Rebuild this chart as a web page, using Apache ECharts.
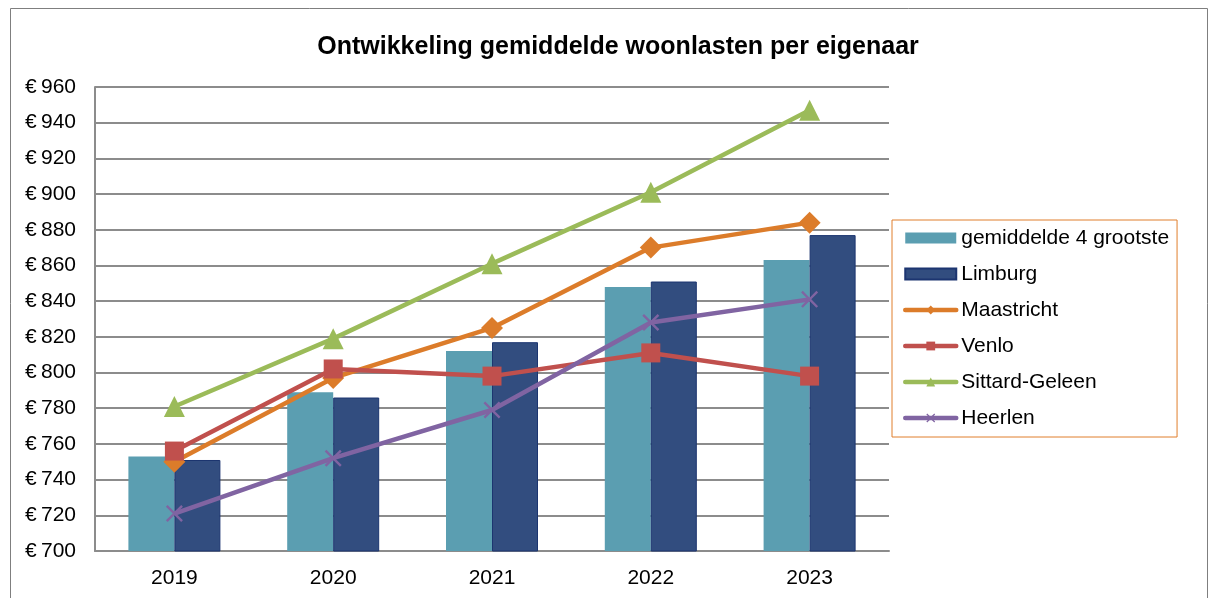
<!DOCTYPE html>
<html>
<head>
<meta charset="utf-8">
<script src="https://cdn.jsdelivr.net/npm/echarts@6/dist/echarts.min.js"></script>
<style>
  html, body { margin: 0; padding: 0; background: #fff; }
  #main { width: 1215px; height: 598px; }
</style>
</head>
<body>
<div id="main"></div>
<script>
// jaren en waarden
var years = ['2019', '2020', '2021', '2022', '2023'];
var gemiddelde4 = [753, 789, 812, 848, 863];
var limburg = [751, 786, 817, 851, 877];
var maastricht = [750, 797, 825, 870, 884];
var venlo = [756, 802, 798, 811, 798];
var sittard = [781, 819, 861, 901, 947];
var heerlen = [721, 752, 779, 828, 841];

var fontFam = '"Liberation Sans", Arial, sans-serif';
var crossPath = 'path://M0,1 L1,0 L5,4 L9,0 L10,1 L6,5 L10,9 L9,10 L5,6 L1,10 L0,9 L4,5 Z';

function lineSerie(name, data, color, symbol, size) {
    return {
        name: name,
        type: 'line',
        data: data,
        symbol: symbol,
        symbolSize: size,
        lineStyle: { color: color, width: 4.5 },
        itemStyle: { color: color },
        z: 5
    };
}

var myChart = echarts.init(document.getElementById('main'));
var option = {
    animation: false,
    textStyle: { fontFamily: fontFam },
    title: {
        text: 'Ontwikkeling gemiddelde woonlasten per eigenaar',
        left: 613,
        textAlign: 'center',
        top: 30,
        textStyle: { fontSize: 25, fontWeight: 'bold', color: '#000', fontFamily: fontFam }
    },
    graphic: [{
        type: 'rect',
        shape: { x: 10.5, y: 8.5, width: 1197, height: 600 },
        style: { fill: 'none', stroke: '#7f7f7f', lineWidth: 1 },
        silent: true
    }],
    grid: { left: 95, right: 326, top: 87, bottom: 47 },
    legend: {
        orient: 'vertical',
        left: 892,
        top: 220,
        padding: [6, 8, 7, 11],
        borderColor: '#e07f2c',
        borderWidth: 1,
        itemWidth: 51,
        itemHeight: 11,
        itemGap: 12,
        lineStyle: { width: 4.5, cap: 'round' },
        textStyle: { fontSize: 21, color: '#000', lineHeight: 24 },
        data: [
            { name: 'gemiddelde 4 grootste', icon: 'rect' },
            { name: 'Limburg', icon: 'rect' },
            'Maastricht', 'Venlo', 'Sittard-Geleen', 'Heerlen'
        ]
    },
    xAxis: {
        type: 'category',
        data: years,
        axisLine: { lineStyle: { color: '#8c8c8c', width: 2 } },
        axisTick: { show: false },
        axisLabel: { fontSize: 21, color: '#000', margin: 17 }
    },
    yAxis: {
        type: 'value',
        min: 700,
        max: 960,
        interval: 20,
        axisLine: { show: true, lineStyle: { color: '#8c8c8c', width: 2 } },
        axisTick: { show: false },
        axisLabel: {
            fontSize: 21,
            color: '#000',
            margin: 19,
            formatter: function (v) { return '\u20ac\u2009' + v; }
        },
        splitLine: { lineStyle: { color: '#8c8c8c', width: 2 } }
    },
    series: [
        {
            name: 'gemiddelde 4 grootste',
            type: 'bar',
            data: gemiddelde4,
            barWidth: 46,
            barGap: '0%',
            itemStyle: { color: '#5b9eb1' }
        },
        {
            name: 'Limburg',
            type: 'bar',
            data: limburg,
            barWidth: 46,
            barGap: '0%',
            itemStyle: { color: '#324d7f', borderColor: '#1c3570', borderWidth: 1 }
        },
        lineSerie('Maastricht', maastricht, '#dc7c2a', 'diamond', 22),
        lineSerie('Venlo', venlo, '#c0504d', 'rect', 19),
        lineSerie('Sittard-Geleen', sittard, '#9bbb59', 'triangle', 21),
        lineSerie('Heerlen', heerlen, '#8064a2', crossPath, 17)
    ]
};
myChart.setOption(option);
</script>
</body>
</html>
